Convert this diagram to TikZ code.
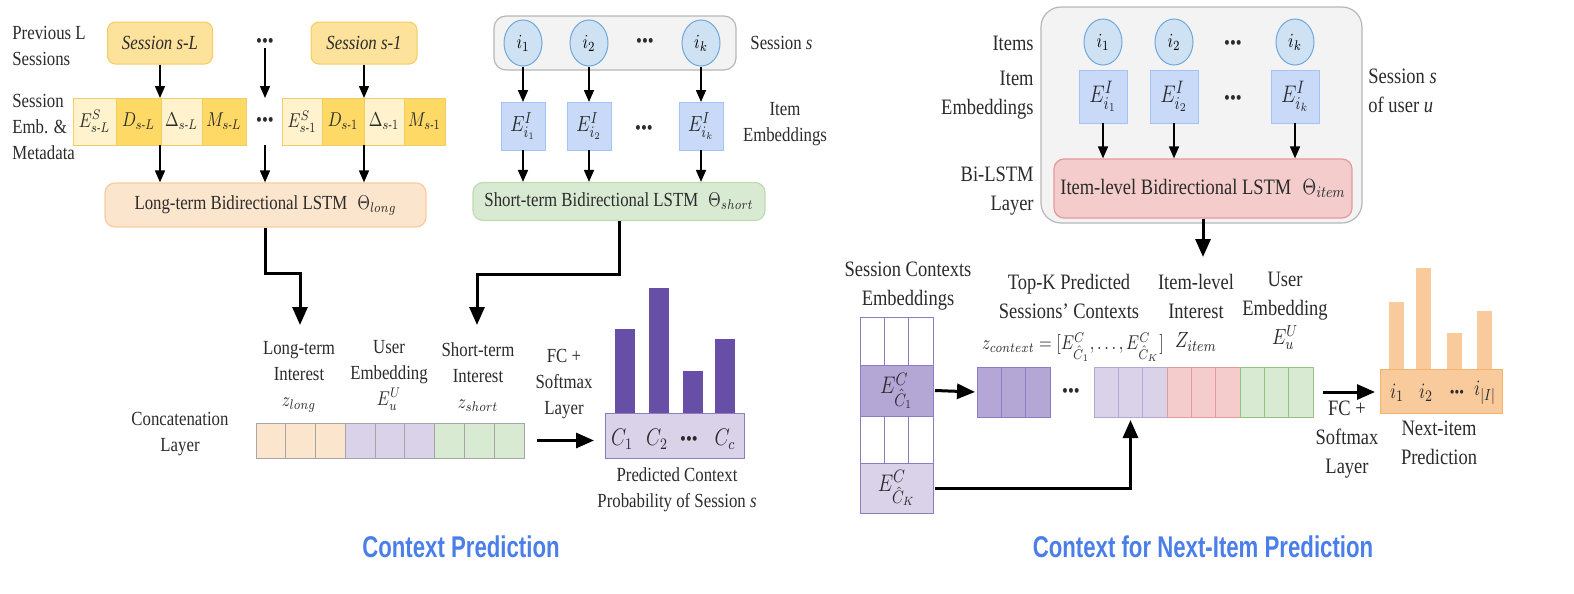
\documentclass[tikz,border=0pt]{standalone}
\usepackage{amsmath}
\usepackage{fontspec}
\setmainfont[FakeStretch=0.84]{Liberation Serif}
\newfontfamily\titlefont[FakeStretch=0.74]{Liberation Sans}
\usetikzlibrary{positioning,calc,shapes.geometric,arrows.meta}

\newcommand\mq[1]{\scalebox{0.82}[1]{$#1$}}
\newcommand\bdots{\textbullet\textbullet\textbullet}

\definecolor{txt}{HTML}{2B2B2B}
\definecolor{sesy}{HTML}{FCE29A}
\definecolor{sesyd}{HTML}{F3CD62}
\definecolor{cream}{HTML}{FFF2CC}
\definecolor{gold}{HTML}{FFD966}
\definecolor{peach}{HTML}{FCE5CD}
\definecolor{peachd}{HTML}{F9CB9C}
\definecolor{mint}{HTML}{D9EAD3}
\definecolor{mintd}{HTML}{93C47D}
\definecolor{greyf}{HTML}{F3F3F3}
\definecolor{greyd}{HTML}{B7B7B7}
\definecolor{itemf}{HTML}{CFE2F3}
\definecolor{itemd}{HTML}{6FA8DC}
\definecolor{embf}{HTML}{C9DAF8}
\definecolor{embd}{HTML}{A4C2F4}
\definecolor{lav}{HTML}{D9D2E9}
\definecolor{purp}{HTML}{B4A7D6}
\definecolor{purpled}{HTML}{8E7CC3}
\definecolor{barp}{HTML}{674EA7}
\definecolor{pinkf}{HTML}{F4CCCC}
\definecolor{pinkd}{HTML}{E69999}
\definecolor{orangef}{HTML}{F9CB9C}
\definecolor{oranged}{HTML}{F6B26B}
\definecolor{titleblue}{HTML}{4A7FEA}

\tikzset{
  sz/.style 2 args={minimum width=#1*0.5pt, minimum height=#2*0.5pt},
  lbl/.style={font=\fontsize{10}{13}\selectfont, text=txt, inner sep=0pt},
  lblr/.style={font=\fontsize{11}{14.5}\selectfont, text=txt, inner sep=0pt},
  dotlbl/.style={font=\fontsize{10}{12}\selectfont, text=txt, inner sep=0pt},
  sesbox/.style={draw=sesyd, fill=sesy, rounded corners=4pt, line width=0.5pt,
    font=\fontsize{10}{12}\selectfont, text=txt, inner sep=0pt},
  mcell/.style={rectangle, inner sep=0pt, outer sep=0pt, line width=0.5pt, text=txt},
  lstm/.style={rounded corners=5pt, line width=0.6pt, text=txt, inner sep=0pt,
    font=\fontsize{10}{12}\selectfont},
  greybox/.style={draw=greyd, fill=greyf, rounded corners=6pt, line width=0.6pt},
  item/.style={ellipse, draw=itemd, fill=itemf, line width=0.5pt, inner sep=0pt,
    minimum width=19pt, minimum height=23pt, font=\fontsize{10}{12}\selectfont},
  emb/.style={mcell, draw=embd, fill=embf},
  arr/.style={-{Triangle[length=6pt,width=5pt]}, line width=0.8pt},
  bigarr/.style={-{Triangle[length=9pt,width=7.5pt]}, line width=1.5pt},
  title/.style={font=\titlefont\bfseries\fontsize{15}{18}\selectfont, text=titleblue}
}

\begin{document}
\begin{tikzpicture}[x=0.5pt, y=-0.5pt]
  \useasboundingbox (0,0) rectangle (1574,594);

  % ---- context prediction: previous sessions
  \node[lbl, align=left, anchor=west] (prevlbl) at (12,46) {Previous L\\Sessions};
  \node[lbl, align=left, anchor=west] (metalbl) at (12,127) {Session\\Emb. \&\\Metadata};

  \node[sesbox, sz={105}{42}] (sesL) at (160,43) {\itshape Session s-L};
  \node[sesbox, sz={106}{42}] (ses1) at (364,43) {\itshape Session s-1};
  \node[dotlbl] (sdots) at (265,43) {\bdots};

  \foreach \x/\w/\c/\t [count=\i] in {94.5/43/cream/{E^{S}_{s\text{-}L}}, 138.5/45/gold/{D_{s\text{-}L}},
      181.5/41/cream/{\Delta_{s\text{-}L}}, 224/44/gold/{M_{s\text{-}L}}}
    \node[mcell, draw=sesyd, fill=\c, sz={\w}{47}, font=\fontsize{10}{12}\selectfont] (mL\i) at (\x,121.5) {\mq{\t}};
  \foreach \x/\w/\c/\t [count=\i] in {302/40/cream/{E^{S}_{s\text{-}1}}, 343/42/gold/{D_{s\text{-}1}},
      384/40/cream/{\Delta_{s\text{-}1}}, 424.5/41/gold/{M_{s\text{-}1}}}
    \node[mcell, draw=sesyd, fill=\c, sz={\w}{47}, font=\fontsize{10}{12}\selectfont] (mR\i) at (\x,121.5) {\mq{\t}};
  \node[dotlbl] (mdots) at (265,121.5) {\bdots};

  \node[lstm, draw=peachd, fill=peach, sz={321}{44}] (long) at (265.5,205)
    {Long-term Bidirectional LSTM\enspace\mq{\Theta_{long}}};

  \draw[arr] (sesL.south) -- (sesL.south |- mL2.north);
  \draw[arr] (ses1.south) -- (ses1.south |- mR2.north);
  \draw[arr] (sdots.south) -- (sdots.south |- mL1.north);
  \foreach \p in {sesL,sdots,ses1}
    \draw[arr] (\p.south |- mL1.south) -- (\p.south |- long.north);

  % ---- current session
  \node[greybox, sz={242}{54}] (sess) at (615,43) {};
  \foreach \x/\t [count=\i] in {523/1,589/2,701/k} {
    \node[item] (si\i) at (\x,43) {\mq{i_{\t}}};
    \node[emb, sz={44}{48}, font=\fontsize{11}{13}\selectfont] (se\i) at (\x,126) {\mq{E^{I}_{i_{\t}}}};
  }
  \node[dotlbl] (sidots) at (645,43) {\bdots};
  \node[dotlbl] (sedots) at (644,130) {\bdots};
  \node[lbl, anchor=west] (sesslbl) at (750,43) {Session \textit{s}};
  \node[lbl, align=center] (semblbl) at (785,124) {Item\\Embeddings};

  \node[lstm, draw=mintd!60, fill=mint, sz={292}{38}] (short) at (619,201.5)
    {Short-term Bidirectional LSTM\enspace\mq{\Theta_{short}}};

  \foreach \i in {1,2,3} {
    \draw[arr] (si\i) -- (se\i);
    \draw[arr] (se\i) -- (se\i |- short.north);
  }

  % ---- concatenation
  \coordinate (zlongin) at (300,325);
  \coordinate (zshortin) at (477,325);
  \draw[bigarr] (long.south) -- ++(0,46) -| (zlongin);
  \draw[bigarr] (short.south) -- ++(0,53) -| (zshortin);

  \node[lbl, align=center] (zlonglbl) at (299,377) {Long-term\\Interest\\\mq{z_{long}}};
  \node[lbl, align=center] (eulbl) at (389,375) {User\\Embedding\\\mq{E^{U}_{u}}};
  \node[lbl, align=center] (zshortlbl) at (478,377) {Short-term\\Interest\\\mq{z_{short}}};
  \node[lbl, align=center] (fclbl) at (564,384) {FC +\\Softmax\\Layer};
  \node[lbl, align=center] (catlbl) at (180,434) {Concatenation\\Layer};

  \foreach \c [count=\i from 0] in {peach,peach,peach,lav,lav,lav,mint,mint,mint}
    \node[mcell, draw=gray!70, fill=\c, sz={29.78}{35}] (cat\i) at ({256+29.78*(\i+0.5)},440.5) {};

  \node[mcell, draw=purpled, fill=lav, sz={139}{45}] (cbase) at (674.5,435.5) {};
  \foreach \x/\t in {624.5/329,659/288,692.5/371,725/339}
    \fill[barp] (\x-10,\t) rectangle (\x+10,413);
  \foreach \x/\t [count=\i] in {622/C_1,657/C_2,725/C_c}
    \node[text=txt, font=\fontsize{12}{14}\selectfont, inner sep=0pt] (cl\i) at (\x,439) {\mq{\t}};
  \node[dotlbl] (cdots) at (689,441) {\bdots};
  \draw[bigarr] ([xshift=6.5pt]cat8.east) -- ([xshift=-5.5pt]cbase.west |- cat8.east);
  \node[lbl, align=center] (predlbl) at (677,490) {Predicted Context\\Probability of Session \textit{s}};

  % ---- next-item prediction: session of user u
  \node[greybox, rounded corners=10pt, sz={321}{216}] (sesu) at (1201.5,115) {};
  \foreach \x/\t [count=\i] in {1103/1,1174/2,1295/k} {
    \node[item] (ri\i) at (\x,42) {\mq{i_{\t}}};
    \node[emb, sz={48}{53}, font=\fontsize{13}{15}\selectfont] (re\i) at (\x,96.5) {\mq{E^{I}_{i_{\t}}}};
  }
  \node[dotlbl] (ridots) at (1233,45) {\bdots};
  \node[dotlbl] (redots) at (1233,100) {\bdots};

  \node[lstm, draw=pinkd, fill=pinkf, sz={298}{59}, font=\fontsize{11}{13}\selectfont] (item) at (1203,188.5)
    {Item-level Bidirectional LSTM\enspace\mq{\Theta_{item}}};
  \foreach \i in {1,2,3}
    \draw[arr] (re\i) -- (re\i |- item.north);

  \node[lblr, anchor=east] (itemslbl) at (1034,43) {Items};
  \node[lblr, align=right, anchor=east] (remblbl) at (1034,95) {Item\\Embeddings};
  \node[lblr, align=right, anchor=east] (bilbl) at (1034,191) {Bi-LSTM\\Layer};
  \node[lblr, align=left, anchor=west] (sesulbl) at (1368,91) {Session \textit{s}\\of user \textit{u}};

  \coordinate (zitemin) at (1203,257);
  \draw[bigarr] (item.south) -- (zitemin);

  % ---- session contexts embeddings
  \node[lblr, align=center] (sclbl) at (908,286) {Session Contexts\\Embeddings};
  \foreach \r/\y/\h in {1/341/48,3/439.5/47}
    \foreach \k in {0,1,2}
      \node[mcell, draw=purpled, fill=white, sz={24.33}{\h}] (sc\r\k) at ({860+24.33*(\k+0.5)},\y) {};
  \node[mcell, draw=purpled, fill=purp, sz={73}{51}, font=\fontsize{13}{15}\selectfont] (ec1) at (896.5,390.5) {\mq{E^{C}_{\hat{C}_1}}};
  \node[mcell, draw=purpled, fill=lav, sz={73}{50}, font=\fontsize{13}{15}\selectfont] (eck) at (896.5,488) {\mq{E^{C}_{\hat{C}_K}}};

  \foreach \g/\x/\c/\d in {p/977/purp/purpled, l/1094/lav/purp, r/1167/pinkf/pinkd, g/1240/mint/mintd}
    \foreach \k in {0,1,2}
      \node[mcell, draw=\d, fill=\c, sz={24.33}{50}] (ct\g\k) at ({\x+24.33*(\k+0.5)},392) {};
  \node[dotlbl] (ctdots) at (1071,393) {\bdots};

  \draw[bigarr] ([xshift=1pt]ec1.east) -- ([xshift=-1pt]ctp0.west);
  \draw[bigarr, shorten >=1.5pt] ([xshift=1pt]eck.east) -| (ctl1.south);

  \node[lblr, align=center] (topklbl) at (1069,296) {Top-K Predicted\\Sessions’ Contexts};
  \node[lblr, font=\fontsize{10}{12}\selectfont] (zctxlbl) at (1073,347)
    {\mq{z_{context}=[E^{C}_{\hat{C}_1},\ldots,E^{C}_{\hat{C}_K}]}};
  \node[lblr, align=center] (zitemlbl) at (1196,313) {Item-level\\Interest\\\mq{Z_{item}}};
  \node[lblr, align=center] (eurlbl) at (1285,311) {User\\Embedding\\\mq{E^{U}_{u}}};

  % ---- next-item output
  \node[mcell, draw=oranged, fill=orangef, sz={122}{44}] (obase) at (1441,391) {};
  \foreach \x/\t in {1396.5/302,1423.5/268,1454.5/333,1484.5/311}
    \fill[orangef] (\x-7.5,\t) rectangle (\x+7.5,369);
  \foreach \x/\t [count=\i] in {1397/i_1,1426/i_2,1485/i_{|I|}}
    \node[text=txt, font=\fontsize{11}{13}\selectfont, inner sep=0pt] (ol\i) at (\x,393) {\mq{\t}};
  \node[dotlbl, font=\fontsize{8}{10}\selectfont] (odots) at (1457,394) {\bdots};
  \draw[bigarr] ([xshift=5pt]ctg2.east) -- ([xshift=-2.5pt]obase.west |- ctg2.east);
  \node[lblr, align=center] (fcrlbl) at (1347,440) {FC +\\Softmax\\Layer};
  \node[lblr, align=center] (nextlbl) at (1439,443) {Next-item\\Prediction};

  % ---- titles
  \node[title] (ctitle) at (461,547) {Context Prediction};
  \node[title] (ntitle) at (1203,547) {Context for Next-Item Prediction};
\end{tikzpicture}
\end{document}
